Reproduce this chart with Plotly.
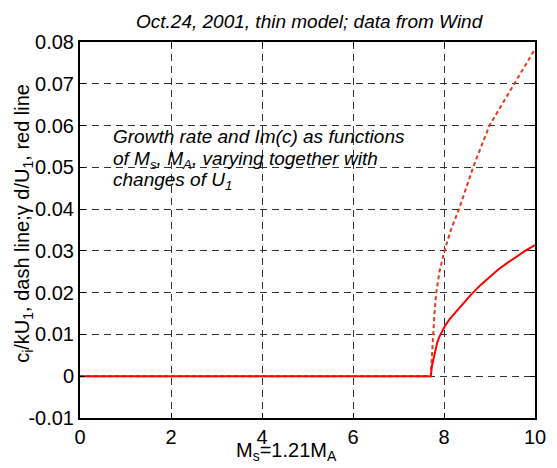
import plotly.graph_objects as go

# Data
ms_dash = [0, 1, 2, 3, 4, 5, 6, 7, 7.71, 7.73, 7.76, 7.79, 7.83, 7.90, 8.01, 8.15, 8.33, 8.48, 8.64,
           8.82, 9.0, 9.27, 9.55, 9.78, 10]
ci_dash = [0, 0, 0, 0, 0, 0, 0, 0, 0, 0.004, 0.010, 0.015, 0.020, 0.025, 0.030, 0.035, 0.040, 0.045,
           0.050, 0.055, 0.060, 0.065, 0.070, 0.0743, 0.0783]

ms_solid = [0, 1, 2, 3, 4, 5, 6, 7, 7.71, 7.73, 7.76, 7.80, 7.85, 7.90, 7.96, 8.03, 8.12, 8.25, 8.40,
            8.6, 8.8, 9.0, 9.2, 9.4, 9.6, 9.8, 10]
gamma_solid = [0, 0, 0, 0, 0, 0, 0, 0, 0, 0.0022, 0.0038, 0.0060, 0.0080, 0.0095, 0.0108, 0.0122,
               0.0136, 0.0153, 0.0172, 0.0196, 0.0218, 0.0238, 0.0256, 0.0272, 0.0287, 0.0301, 0.0314]

x_ticks = [0, 2, 4, 6, 8, 10]
y_ticks = [-0.01, 0, 0.01, 0.02, 0.03, 0.04, 0.05, 0.06, 0.07, 0.08]
y_tick_labels = ["-0.01", "0", "0.01", "0.02", "0.03", "0.04", "0.05", "0.06", "0.07", "0.08"]

note_lines = ["<i>Growth rate and Im(c) as functions</i>",
              "<i>of M<sub>s</sub>, M<sub>A</sub>, varying together with</i>",
              "<i>changes of U<sub>1</sub></i>"]

FONT = "Liberation Sans, Arial, sans-serif"
W, H = 557, 468
L, R, T, B = 80, 11, 42, 50
PW, PH = W - L - R, H - T - B


def px_x(p):
    return (p - L) / PW


def px_y(p):
    return (H - B - p) / PH


fig = go.Figure()
fig.add_trace(go.Scatter(x=ms_dash, y=ci_dash, mode="lines",
                         line=dict(color="#e23a1c", width=2, dash="4px,3px"),
                         showlegend=False))
fig.add_trace(go.Scatter(x=ms_solid, y=gamma_solid, mode="lines",
                         line=dict(color="#ff0000", width=2),
                         showlegend=False))

axis_common = dict(showline=True, linecolor="black", linewidth=2, mirror="ticks",
                   ticks="inside", ticklen=5, tickcolor="black", tickwidth=1,
                   showgrid=True, gridcolor="#333333", gridwidth=1, griddash="7px,5px",
                   zeroline=False, tickfont=dict(family=FONT, size=20, color="black"))

fig.update_xaxes(range=[0, 10], tickvals=x_ticks, **axis_common)
fig.update_yaxes(range=[-0.01, 0.08], tickvals=y_ticks, ticktext=y_tick_labels, **axis_common)

# white box behind the annotation text (covers gridlines)
fig.add_shape(type="rect", xref="paper", yref="paper", x0=px_x(103), x1=px_x(437),
              y0=px_y(200), y1=px_y(110),
              fillcolor="white", line=dict(width=0), layer="between")

for i, line in enumerate(note_lines):
    fig.add_annotation(xref="paper", yref="paper", x=px_x(112), y=px_y(124 + 21.7 * i),
                       xanchor="left", yanchor="top", align="left", showarrow=False,
                       text=line, font=dict(family=FONT, size=19, color="black"))

# axis titles and title
fig.add_annotation(xref="paper", yref="paper", x=px_x(291), y=px_y(437),
                   xanchor="center", yanchor="top", showarrow=False,
                   text="M<sub>s</sub>=1.21M<sub>A</sub>",
                   font=dict(family=FONT, size=20, color="black"))
fig.add_annotation(xref="paper", yref="paper", x=px_x(22), y=px_y(223.5),
                   xanchor="center", yanchor="middle", showarrow=False, textangle=-90,
                   text="c<sub>i</sub>/kU<sub>1</sub>, dash line;γ d/U<sub>1</sub>, red line",
                   font=dict(family=FONT, size=20, color="black"))
fig.add_annotation(xref="paper", yref="paper", x=px_x(316), y=px_y(9),
                   xanchor="center", yanchor="top", showarrow=False,
                   text="<i>Oct.24, 2001, thin model; data from Wind</i>",
                   font=dict(family=FONT, size=19, color="black"))

fig.update_layout(width=W, height=H, margin=dict(l=L, r=R, t=T, b=B),
                  plot_bgcolor="white", paper_bgcolor="white")

fig.write_html("out.html")
